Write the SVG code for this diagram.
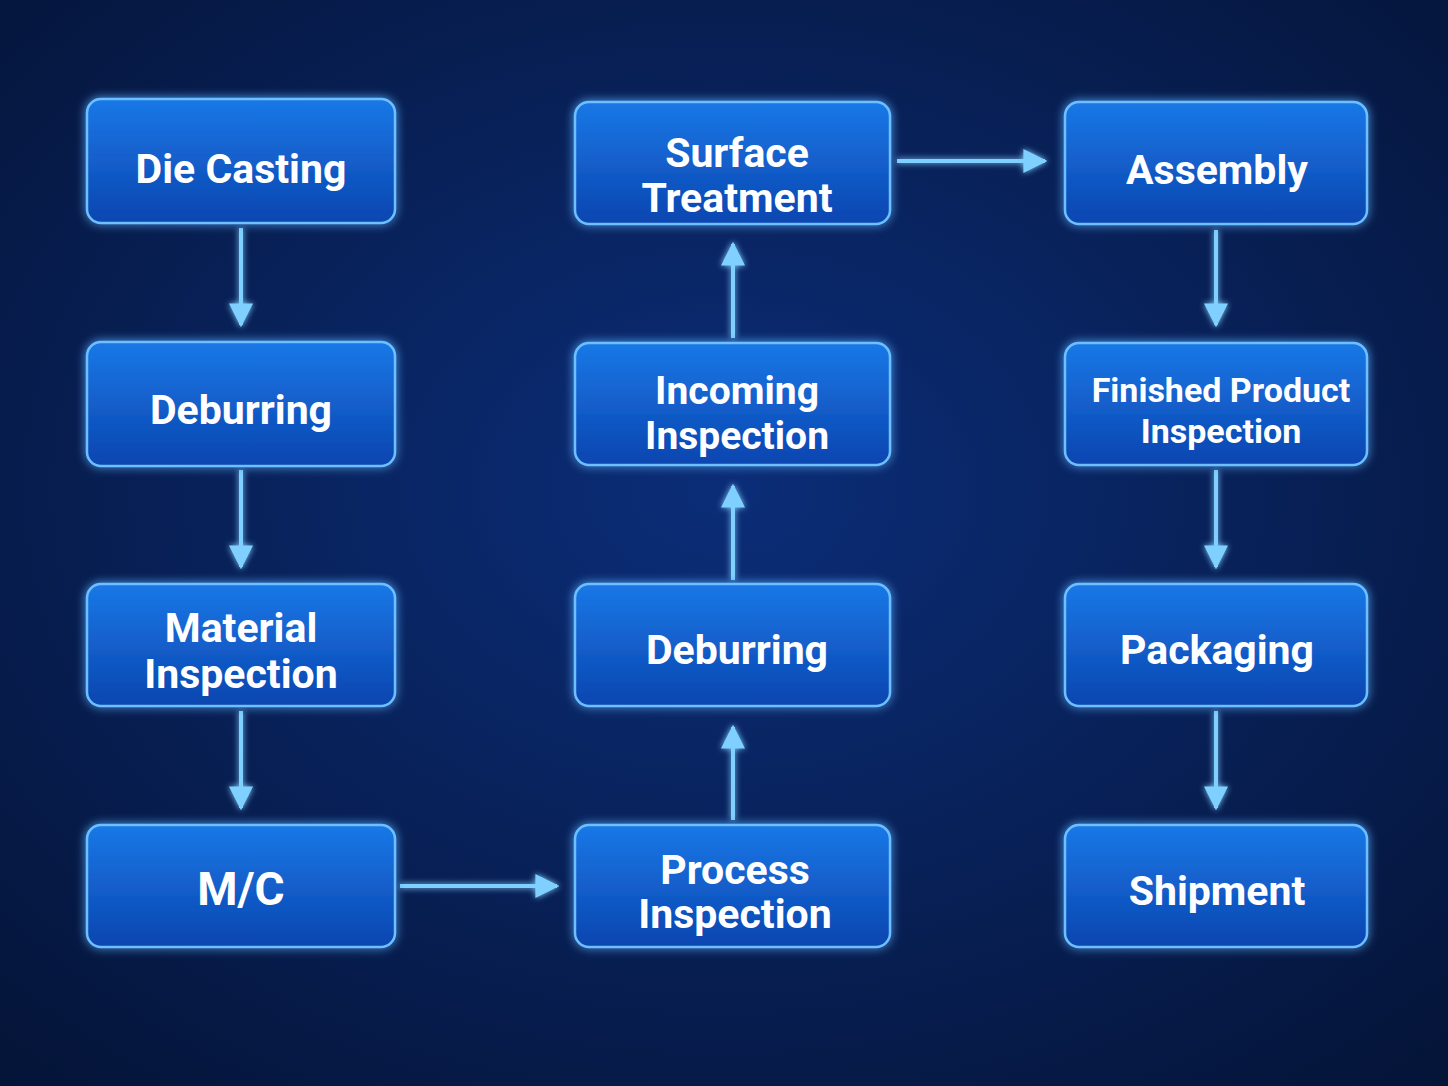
<svg xmlns="http://www.w3.org/2000/svg" width="1448" height="1086" viewBox="0 0 1448 1086">
<defs>
<radialGradient id="bg" cx="0.5" cy="0.45" r="0.8">
<stop offset="0" stop-color="#0b2d78"/><stop offset="1" stop-color="#041232"/>
</radialGradient>
<linearGradient id="nf" x1="0" y1="0" x2="0" y2="1">
<stop offset="0" stop-color="#1a78e6"/><stop offset="1" stop-color="#0b45b0"/>
</linearGradient>
<filter id="glow" x="-20%" y="-30%" width="140%" height="160%">
<feGaussianBlur stdDeviation="5" result="b"/>
<feMerge><feMergeNode in="b"/><feMergeNode in="SourceGraphic"/></feMerge>
</filter>
<filter id="lglow" filterUnits="userSpaceOnUse" x="0" y="0" width="1448" height="1086">
<feGaussianBlur stdDeviation="3" result="b"/>
<feMerge><feMergeNode in="b"/><feMergeNode in="SourceGraphic"/></feMerge>
</filter>
<marker id="ah" viewBox="0 0 10 10" refX="9" refY="5" markerWidth="6" markerHeight="6" orient="auto" markerUnits="strokeWidth">
<path d="M0,0 L10,5 L0,10 z" fill="#7fd0ff"/>
</marker>
</defs>
<style>
.n rect{fill:url(#nf);stroke:#6cc0ff;stroke-width:2.5;filter:url(#glow)}
.n text{font-family:Roboto,"Liberation Sans",sans-serif;font-weight:bold;fill:#fff;text-anchor:middle;font-size:41px}
.c line{stroke:#7fd0ff;stroke-width:4;marker-end:url(#ah)}
</style>
<rect width="1448" height="1086" fill="url(#bg)"/>
<g class="c" filter="url(#lglow)">
<line x1="241" y1="228" x2="241" y2="325"/>
<line x1="241" y1="470" x2="241" y2="567"/>
<line x1="241" y1="711" x2="241" y2="808"/>
<line x1="400" y1="886" x2="557" y2="886"/>
<line x1="733" y1="820" x2="733" y2="727"/>
<line x1="733" y1="580" x2="733" y2="486"/>
<line x1="733" y1="338" x2="733" y2="244"/>
<line x1="897" y1="161" x2="1045" y2="161"/>
<line x1="1216" y1="230" x2="1216" y2="325"/>
<line x1="1216" y1="470" x2="1216" y2="567"/>
<line x1="1216" y1="711" x2="1216" y2="808"/>
</g>
<g id="n1" class="n"><rect x="87" y="99" width="308" height="124" rx="14"/><text x="241" y="183">Die Casting</text></g>
<g id="n2" class="n"><rect x="87" y="342" width="308" height="124" rx="14"/><text x="241" y="424">Deburring</text></g>
<g id="n3" class="n"><rect x="87" y="584" width="308" height="122" rx="14"/><text x="241" y="642">Material</text><text x="241" y="688">Inspection</text></g>
<g id="n4" class="n"><rect x="87" y="825" width="308" height="122" rx="14"/><text x="241" y="905" style="font-size:46px">M/C</text></g>
<g id="n5" class="n"><rect x="575" y="825" width="315" height="122" rx="14"/><text x="735" y="884">Process</text><text x="735" y="928">Inspection</text></g>
<g id="n6" class="n"><rect x="575" y="584" width="315" height="122" rx="14"/><text x="737" y="664">Deburring</text></g>
<g id="n7" class="n"><rect x="575" y="343" width="315" height="122" rx="14"/><text x="737" y="404" style="font-size:39px">Incoming</text><text x="737" y="449" style="font-size:39px">Inspection</text></g>
<g id="n8" class="n"><rect x="575" y="102" width="315" height="122" rx="14"/><text x="737" y="167">Surface</text><text x="737" y="212">Treatment</text></g>
<g id="n9" class="n"><rect x="1065" y="102" width="302" height="122" rx="14"/><text x="1217" y="184">Assembly</text></g>
<g id="n10" class="n"><rect x="1065" y="343" width="302" height="122" rx="14"/><text x="1221" y="402" style="font-size:34px">Finished Product</text><text x="1221" y="443" style="font-size:34px">Inspection</text></g>
<g id="n11" class="n"><rect x="1065" y="584" width="302" height="122" rx="14"/><text x="1217" y="664">Packaging</text></g>
<g id="n12" class="n"><rect x="1065" y="825" width="302" height="122" rx="14"/><text x="1217" y="905">Shipment</text></g>
</svg>
